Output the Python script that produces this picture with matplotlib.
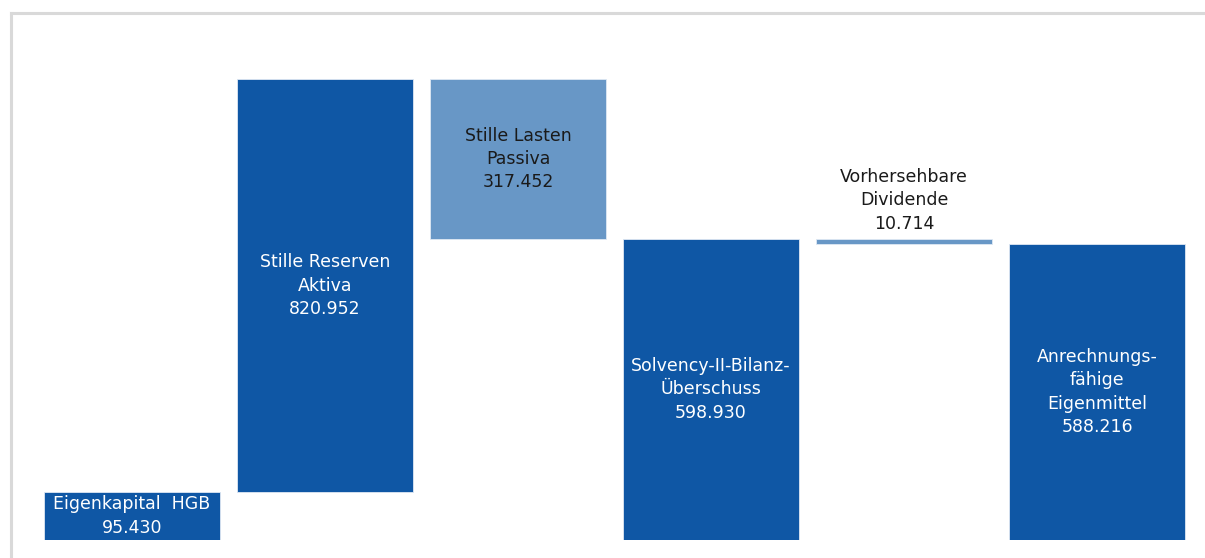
import matplotlib
matplotlib.use("Agg")
import matplotlib.pyplot as plt
from matplotlib.lines import Line2D

# Waterfall data (in thousands, German number format in labels)
labels = [
    "Eigenkapital  HGB",
    "Stille Reserven\nAktiva",
    "Stille Lasten\nPassiva",
    "Solvency-II-Bilanz-\nÜberschuss",
    "Vorhersehbare\nDividende",
    "Anrechnungs-\nfähige\nEigenmittel",
]
values = [95430, 820952, -317452, 598930, -10714, 588216]
is_total = [True, False, False, True, False, True]

dark = "#0F57A5"
light = "#6897C6"

fig = plt.figure(figsize=(12.05, 5.58), dpi=100)
ax = fig.add_axes([0, 18 / 558, 1, 540 / 558])
ax.set_xlim(-132 / 193, (1205 - 132) / 193)
ax.set_ylim(0, 540 / 0.503 * 1000)
ax.axis("off")

running = 0
for i, (lab, val, tot) in enumerate(zip(labels, values, is_total)):
    if tot:
        bottom, height = 0, val
        running = val
    else:
        if val >= 0:
            bottom, height = running, val
        else:
            bottom, height = running + val, -val
        running += val
    color = dark if val > 0 else light
    ax.bar(i, height, bottom=bottom, width=0.91, color=color,
           edgecolor="#dfe8f3", linewidth=0.6)
    txt = lab + "\n" + f"{abs(val):,}".replace(",", ".")
    tcol = "white" if val > 0 else "#1a1a1a"
    if height < 40000:
        ax.text(i, bottom + height + 12000, txt, ha="center", va="bottom",
                color="#1a1a1a", fontsize=12.5, linespacing=1.38)
    else:
        ax.text(i, bottom + height / 2, txt, ha="center", va="center",
                color=tcol, fontsize=12.5, linespacing=1.38)

# light gray frame around the chart
fig.add_artist(Line2D([11 / 1205, 11 / 1205], [0, 1 - 13 / 558],
                      transform=fig.transFigure, color="#d9d9d9", linewidth=2.2))
fig.add_artist(Line2D([11 / 1205, 1], [1 - 13 / 558, 1 - 13 / 558],
                      transform=fig.transFigure, color="#d9d9d9", linewidth=2.2))

plt.savefig("out.png", dpi=100)
